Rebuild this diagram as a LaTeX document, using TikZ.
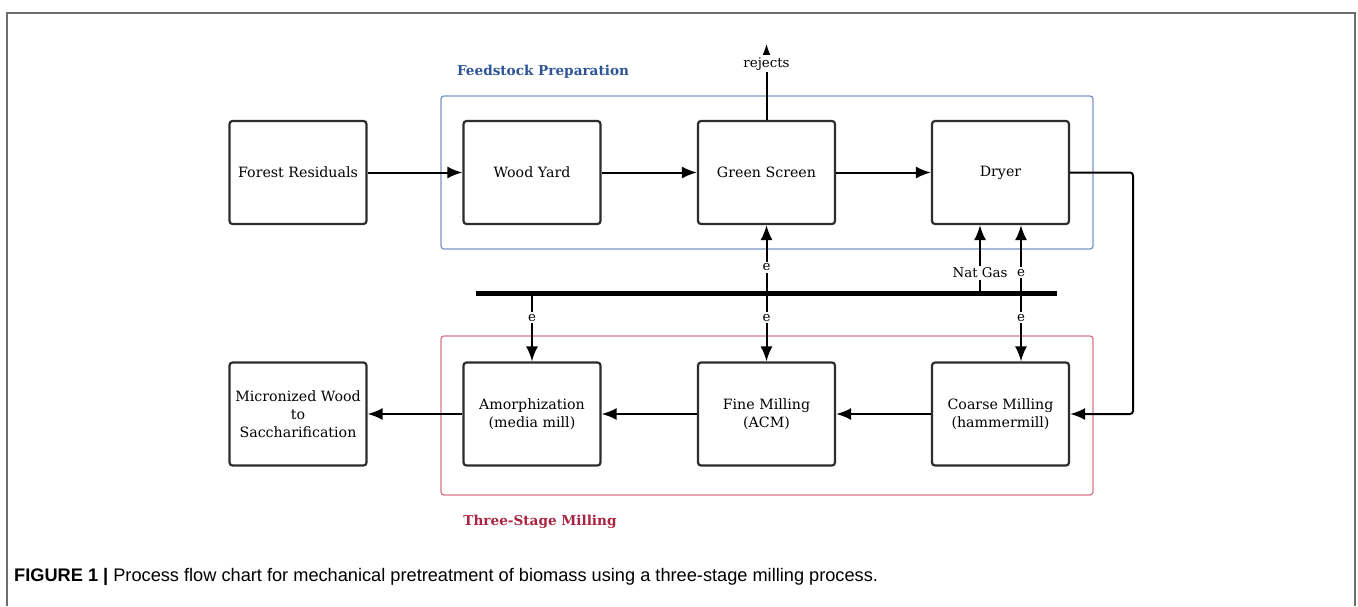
\documentclass[tikz,border=0pt]{standalone}
\usepackage{fontspec}
\setmainfont{DejaVu Serif}
\newfontfamily\capfont{Liberation Sans}
\usetikzlibrary{arrows.meta}
\definecolor{frameGray}{RGB}{110,110,110}
\definecolor{boxLine}{RGB}{45,45,45}
\definecolor{feedBlue}{RGB}{120,150,195}
\definecolor{feedText}{RGB}{45,85,150}
\definecolor{millRed}{RGB}{215,120,140}
\definecolor{millText}{RGB}{170,35,65}
\tikzset{
  stepbox/.style={draw=boxLine, line width=2.2pt, rounded corners=3pt, fill=white,
    minimum width=137pt, minimum height=103pt, inner sep=0pt, align=center,
    font=\fontsize{14.2}{18}\selectfont},
  arr/.style={line width=2pt, -{Latex[length=15pt,width=12pt]}},
  elabel/.style={fill=white, inner sep=2pt, font=\fontsize{13.4}{15}\selectfont},
  grouplabel/.style={font=\bfseries\fontsize{13.6}{16}\selectfont},
}
\begin{document}
\begin{tikzpicture}[x=1pt,y=-1pt]
\useasboundingbox (0,0) rectangle (1358,606);
% outer frame
\draw[frameGray, line width=1.5pt] (7,606) -- (7,13) -- (1355,13) -- (1355,606);
% group boxes
\draw[feedBlue, line width=1.3pt, rounded corners=3pt] (441,96) rectangle (1093,249);
\draw[millRed, line width=1.3pt, rounded corners=3pt] (441,336) rectangle (1093,495);
\node[grouplabel, text=feedText] (fplabel) at (543,72) {Feedstock Preparation};
\node[grouplabel, text=millText] (tslabel) at (540,522) {Three-Stage Milling};
% boxes
\node[stepbox] (fr) at (298,172.5) {Forest Residuals};
\node[stepbox] (wy) at (532,172.5) {Wood Yard};
\node[stepbox] (gs) at (766.5,172.5) {Green Screen};
\node[stepbox] (dr) at (1000.5,172.5) {Dryer};
\node[stepbox] (mw) at (298,414) {Micronized Wood\\to\\Saccharification};
\node[stepbox] (am) at (532,414) {Amorphization\\(media mill)};
\node[stepbox] (fm) at (766.5,414) {Fine Milling\\(ACM)};
\node[stepbox] (cm) at (1000.5,414) {Coarse Milling\\(hammermill)};
% main flow
\draw[arr] (fr) -- (wy);
\draw[arr] (wy) -- (gs);
\draw[arr] (gs) -- (dr);
\coordinate (turn) at (1133,172.5);
\draw[arr, rounded corners=3pt] (dr.east) -- (turn) |- (cm.east);
\draw[arr] (cm) -- (fm);
\draw[arr] (fm) -- (am);
\draw[arr] (am) -- (mw);
% rejects
\coordinate (rejtip) at (766.5,44);
\draw[arr] (gs.north) -- node[elabel, pos=0.74] (rej) {rejects} (rejtip);
% bus
\coordinate (busL) at (476,293);
\coordinate (busR) at (1057,293);
\draw[line width=5pt] (busL) -- (busR);
\coordinate (b1) at (532,293);
\coordinate (b2) at (766.5,293);
\coordinate (b3) at (980,293);
\coordinate (b4) at (1021,293);
\draw[arr] (b1) -- node[elabel, pos=0.36] (e1) {e} (am.north);
\draw[arr] (b2) -- node[elabel, pos=0.36] (e2) {e} (fm.north);
\draw[arr] (b2) -- node[elabel, pos=0.38] (e3) {e} (gs.south);
\draw[arr] (b3) -- node[elabel, pos=0.3] (ng) {Nat Gas} (b3 |- dr.south);
\draw[arr] (b4) -- node[elabel, pos=0.3] (e4) {e} (b4 |- dr.south);
\draw[arr] (b4) -- node[elabel, pos=0.36] (e5) {e} (b4 |- cm.north);
% caption
\node[anchor=west, inner sep=0pt, font=\capfont\fontsize{18.2}{21}\selectfont] (cap) at (14,577)
  {\textbf{FIGURE 1 |} Process flow chart for mechanical pretreatment of biomass using a three-stage milling process.};
\end{tikzpicture}
\end{document}
